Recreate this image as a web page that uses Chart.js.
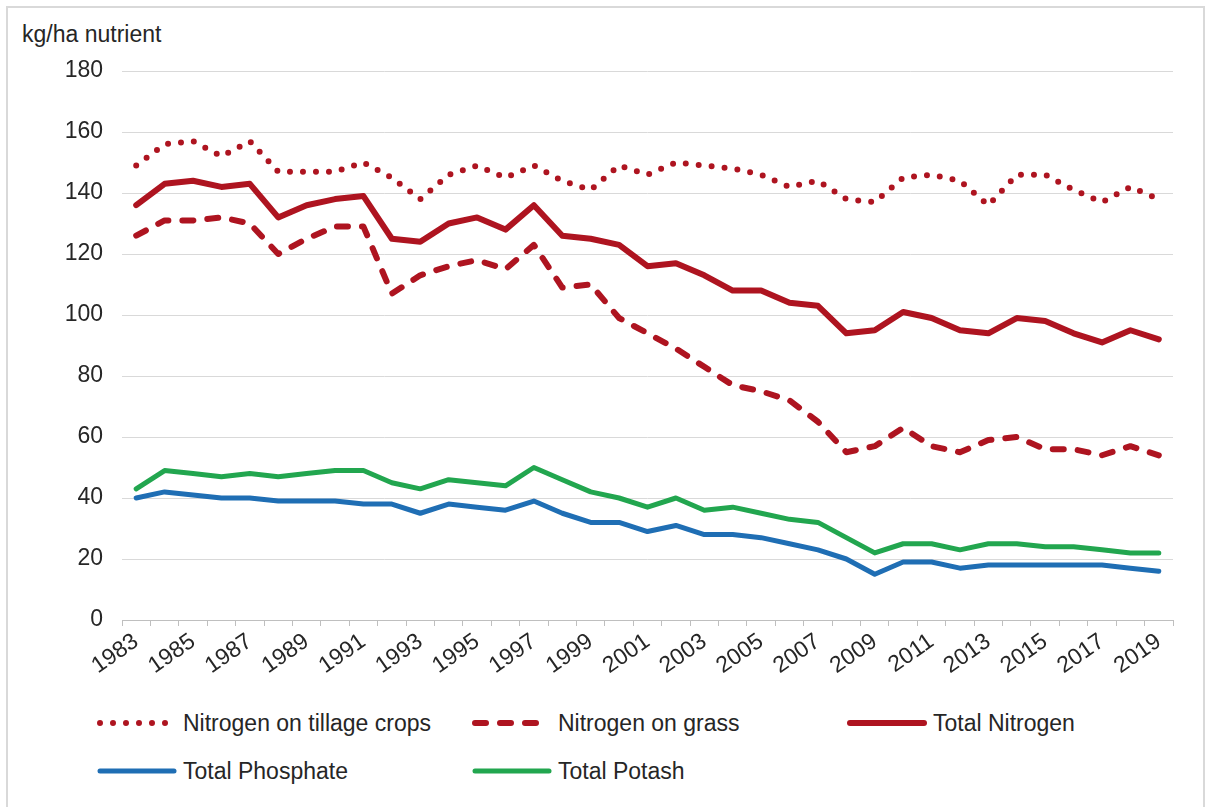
<!DOCTYPE html>
<html>
<head>
<meta charset="utf-8">
<script src="https://cdn.jsdelivr.net/npm/chart.js@4.4.0/dist/chart.umd.min.js"></script>
<style>
  body { margin: 0; background: #fff; font-family: "Liberation Sans", Arial, sans-serif; color: #262626; }
  #frame { position: absolute; left: 6px; top: 6px; width: 1199px; height: 801px; border: 2px solid #d9d9d9; border-bottom: none; box-sizing: border-box; }
  #wrap { position: absolute; left: 0; top: 0; width: 1205px; height: 700px; }
  #unit { position: absolute; left: 22px; top: 21px; font-size: 23px; }
  .item { position: absolute; height: 30px; display: flex; align-items: center; font-size: 23px; white-space: nowrap; }
  .item svg { margin-right: 6px; }
</style>
</head>
<body>
<div id="frame"></div>
<div id="unit">kg/ha nutrient</div>
<div id="wrap"><canvas id="chart"></canvas></div>
<div id="legend"></div>
<script>
const years = ["1983","1984","1985","1986","1987","1988","1989","1990","1991","1992","1993","1994","1995",
  "1996","1997","1998","1999","2000","2001","2002","2003","2004","2005","2006","2007","2008","2009",
  "2010","2011","2012","2013","2014","2015","2016","2017","2018","2019"];

const tillage = [149,156,157,152,157,147,147,147,150,145,138,146,149,145,149,144,141,149,146,150,149,148,146,142,144,138,137,145,146,144,136,146,146,141,137,142,138];
const grass = [126,131,131,132,130,120,125,129,129,107,113,116,118,115,123,109,110,99,94,89,83,77,75,72,65,55,57,63,57,55,59,60,56,56,54,57,54];
const totalN = [136,143,144,142,143,132,136,138,139,125,124,130,132,128,136,126,125,123,116,117,113,108,108,104,103,94,95,101,99,95,94,99,98,94,91,95,92];
const phosphate = [40,42,41,40,40,39,39,39,38,38,35,38,37,36,39,35,32,32,29,31,28,28,27,25,23,20,15,19,19,17,18,18,18,18,18,17,16];
const potash = [43,49,48,47,48,47,48,49,49,45,43,46,45,44,50,46,42,40,37,40,36,37,35,33,32,27,22,25,25,23,25,25,24,24,23,22,22];

const yMin = 0, yMax = 180, yStep = 20;

const red = "#AE1420";

Chart.defaults.font.family = "'Liberation Sans', Arial, sans-serif";
Chart.defaults.font.size = 23;
Chart.defaults.color = "#262626";

const chart = new Chart(document.getElementById("chart"), {
  type: "line",
  data: {
    labels: years,
    datasets: [
      { label: "Nitrogen on tillage crops", data: tillage, borderColor: red, borderWidth: 6, borderDash: [0, 13], borderCapStyle: "round" },
      { label: "Nitrogen on grass", data: grass, borderColor: red, borderWidth: 6, borderDash: [11, 14], borderCapStyle: "round" },
      { label: "Total Nitrogen", data: totalN, borderColor: red, borderWidth: 6, borderCapStyle: "round" },
      { label: "Total Phosphate", data: phosphate, borderColor: "#1F6EB4", borderWidth: 5, borderCapStyle: "round" },
      { label: "Total Potash", data: potash, borderColor: "#22A64F", borderWidth: 5, borderCapStyle: "round" }
    ]
  },
  options: {
    responsive: true,
    maintainAspectRatio: false,
    animation: false,
    elements: { point: { radius: 0 }, line: { tension: 0, borderJoinStyle: "round" } },
    layout: { padding: { top: 71, right: 32, left: 0, bottom: 0 } },
    plugins: { legend: { display: false }, tooltip: { enabled: false } },
    scales: {
      x: {
        offset: true,
        afterFit: (axis) => { axis.height = 80; },
        grid: { offset: true, drawOnChartArea: false, drawTicks: true, tickLength: 6, color: "#BFBFBF" },
        border: { display: true, color: "#BFBFBF" },
        ticks: {
          autoSkip: false,
          minRotation: 35,
          maxRotation: 35,
          padding: 2,
          callback: (v, i) => (i % 2 === 0 ? years[i] : "")
        }
      },
      y: {
        min: yMin,
        max: yMax,
        afterFit: (axis) => { axis.width = 122; },
        grid: { color: "#D9D9D9", drawTicks: false },
        border: { display: false },
        ticks: { stepSize: yStep, padding: 19 }
      }
    }
  }
});

// legend in three columns, built from the datasets
const legendPos = [[97, 708], [472, 708], [847, 708], [97, 756], [472, 756]];
const legend = document.getElementById("legend");
chart.data.datasets.forEach((ds, i) => {
  const el = document.createElement("div");
  el.className = "item";
  el.style.left = legendPos[i][0] + "px";
  el.style.top = legendPos[i][1] + "px";
  const dash = ds.borderDash ? ds.borderDash.join(" ") : "none";
  el.innerHTML = `<svg width="80" height="10"><line x1="3" y1="5" x2="77" y2="5" stroke="${ds.borderColor}"
    stroke-width="${ds.borderWidth}" stroke-linecap="round" stroke-dasharray="${dash}"/></svg><span>${ds.label}</span>`;
  legend.appendChild(el);
});
</script>
</body>
</html>
